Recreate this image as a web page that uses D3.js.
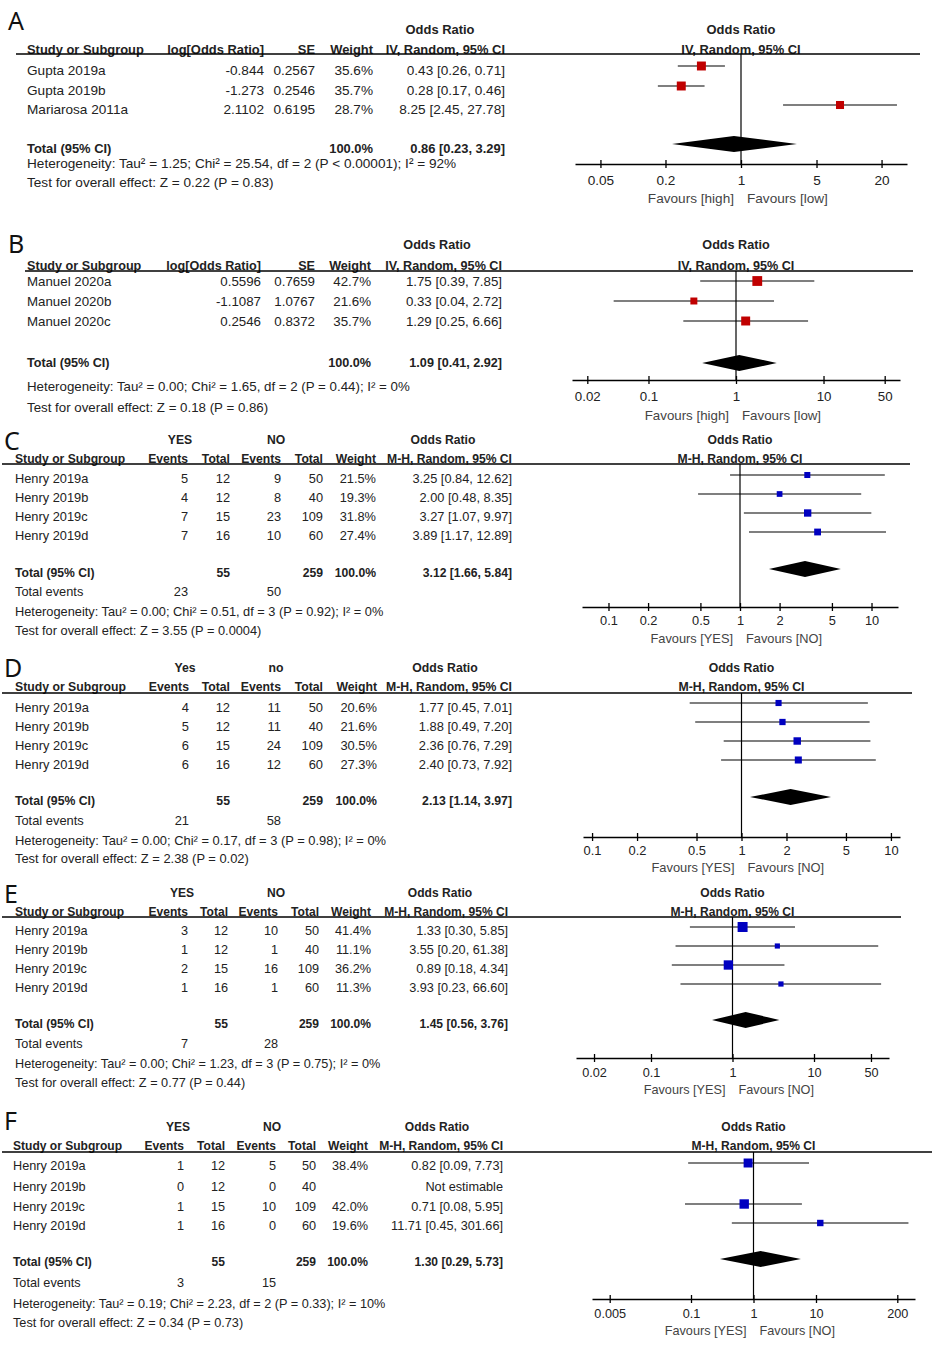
<!DOCTYPE html>
<html>
<head>
<meta charset="utf-8">
<script src="https://cdnjs.cloudflare.com/ajax/libs/d3/7.8.5/d3.min.js"></script>
<style>
body { margin: 0; background: #fff; }
svg text { font-family: "Liberation Sans", Arial, sans-serif; fill: #222; }
svg text.b { font-weight: bold; }
svg text.letter { font-family: "Noto Sans", sans-serif; font-size: 25px; fill: #111; }
svg text.fav { fill: #444; }
</style>
</head>
<body>
<div id="chart"></div>
<script>
// ---- data ----

// A
var studiesA = ["Gupta 2019a", "Gupta 2019b", "Mariarosa 2011a"];
var logOrA = [-0.844, -1.273, 2.1102];
var seA = [0.2567, 0.2546, 0.6195];
var weightA = [35.6, 35.7, 28.7];
var orA = [0.43, 0.28, 8.25];
var loA = [0.26, 0.17, 2.45];
var hiA = [0.71, 0.46, 27.78];
var totalA = [0.86, 0.23, 3.29];
var hetA = "Heterogeneity: Tau² = 1.25; Chi² = 25.54, df = 2 (P < 0.00001); I² = 92%";
var testA = "Test for overall effect: Z = 0.22 (P = 0.83)";
var ticksA = [0.05, 0.2, 1, 5, 20];
var favA = ["Favours [high]", "Favours [low]"];

// B
var studiesB = ["Manuel 2020a", "Manuel 2020b", "Manuel 2020c"];
var logOrB = [0.5596, -1.1087, 0.2546];
var seB = [0.7659, 1.0767, 0.8372];
var weightB = [42.7, 21.6, 35.7];
var orB = [1.75, 0.33, 1.29];
var loB = [0.39, 0.04, 0.25];
var hiB = [7.85, 2.72, 6.66];
var totalB = [1.09, 0.41, 2.92];
var hetB = "Heterogeneity: Tau² = 0.00; Chi² = 1.65, df = 2 (P = 0.44); I² = 0%";
var testB = "Test for overall effect: Z = 0.18 (P = 0.86)";
var ticksB = [0.02, 0.1, 1, 10, 50];
var favB = ["Favours [high]", "Favours [low]"];

// C..F all use the same four Henry studies
var studiesH = ["Henry 2019a", "Henry 2019b", "Henry 2019c", "Henry 2019d"];

// C
var groupsC = ["YES", "NO"];
var evYesC = [5, 4, 7, 7];
var totYesC = [12, 12, 15, 16];
var evNoC = [9, 8, 23, 10];
var totNoC = [50, 40, 109, 60];
var weightC = [21.5, 19.3, 31.8, 27.4];
var orC = [3.25, 2.00, 3.27, 3.89];
var loC = [0.84, 0.48, 1.07, 1.17];
var hiC = [12.62, 8.35, 9.97, 12.89];
var totalC = [3.12, 1.66, 5.84];
var hetC = "Heterogeneity: Tau² = 0.00; Chi² = 0.51, df = 3 (P = 0.92); I² = 0%";
var testC = "Test for overall effect: Z = 3.55 (P = 0.0004)";
var ticksC = [0.1, 0.2, 0.5, 1, 2, 5, 10];
var favC = ["Favours [YES]", "Favours [NO]"];

// D
var groupsD = ["Yes", "no"];
var evYesD = [4, 5, 6, 6];
var totYesD = [12, 12, 15, 16];
var evNoD = [11, 11, 24, 12];
var totNoD = [50, 40, 109, 60];
var weightD = [20.6, 21.6, 30.5, 27.3];
var orD = [1.77, 1.88, 2.36, 2.40];
var loD = [0.45, 0.49, 0.76, 0.73];
var hiD = [7.01, 7.20, 7.29, 7.92];
var totalD = [2.13, 1.14, 3.97];
var hetD = "Heterogeneity: Tau² = 0.00; Chi² = 0.17, df = 3 (P = 0.98); I² = 0%";
var testD = "Test for overall effect: Z = 2.38 (P = 0.02)";
var ticksD = [0.1, 0.2, 0.5, 1, 2, 5, 10];
var favD = ["Favours [YES]", "Favours [NO]"];

// E
var groupsE = ["YES", "NO"];
var evYesE = [3, 1, 2, 1];
var totYesE = [12, 12, 15, 16];
var evNoE = [10, 1, 16, 1];
var totNoE = [50, 40, 109, 60];
var weightE = [41.4, 11.1, 36.2, 11.3];
var orE = [1.33, 3.55, 0.89, 3.93];
var loE = [0.30, 0.20, 0.18, 0.23];
var hiE = [5.85, 61.38, 4.34, 66.60];
var totalE = [1.45, 0.56, 3.76];
var hetE = "Heterogeneity: Tau² = 0.00; Chi² = 1.23, df = 3 (P = 0.75); I² = 0%";
var testE = "Test for overall effect: Z = 0.77 (P = 0.44)";
var ticksE = [0.02, 0.1, 1, 10, 50];
var favE = ["Favours [YES]", "Favours [NO]"];

// F  (Henry 2019b not estimable)
var groupsF = ["YES", "NO"];
var evYesF = [1, 0, 1, 1];
var totYesF = [12, 12, 15, 16];
var evNoF = [5, 0, 10, 0];
var totNoF = [50, 40, 109, 60];
var weightF = [38.4, null, 42.0, 19.6];
var orF = [0.82, null, 0.71, 11.71];
var loF = [0.09, null, 0.08, 0.45];
var hiF = [7.73, null, 5.95, 301.66];
var totalF = [1.30, 0.29, 5.73];
var hetF = "Heterogeneity: Tau² = 0.19; Chi² = 2.23, df = 2 (P = 0.33); I² = 10%";
var testF = "Test for overall effect: Z = 0.34 (P = 0.73)";
var ticksF = [0.005, 0.1, 1, 10, 200];
var favF = ["Favours [YES]", "Favours [NO]"];

// ---- layout of each panel (pixel positions, font size) ----
var layouts = {
  A: {fs: 13.6, letter: [8, 30], h1: 29, h2: 49, line: [16, 920, 54], rows: [70, 90, 109], mOff: -4,
      total: 148, het: 163, test: 182, axisY: 164, tickDy: 16, favDy: 34,
      x0: 575, x1: 907, M: 34.4, K: 15, color: "#c00000",
      cols: [27, 264, 315, 373, 505], orHead: 440},
  B: {fs: 13.3, letter: [8, 253], h1: 245, h2: 266, line: [25, 913, 271], rows: [281, 301, 321], mOff: 0,
      total: 363, het: 386, test: 407, axisY: 380, tickDy: 16, favDy: 35,
      x0: 572, x1: 900, M: 74.8, K: 15, color: "#c00000",
      cols: [27, 261, 315, 371, 502], orHead: 437},
  C: {fs: 12.8, letter: [4, 450], h1: 440, h2: 459, line: [2, 910, 464], rows: [479, 498, 517, 536], mOff: -4,
      total: 573, events: 592, het: 612, test: 631, axisY: 607, tickDy: 14, favDy: 32,
      x0: 582, x1: 898, M: 15.9, K: 13, color: "#0000c0",
      cols: [15, 188, 230, 281, 323, 376, 512], grp: [180, 276], orHead: 443},
  D: {fs: 12.9, letter: [4, 677], h1: 668, h2: 687, line: [2, 912, 693], rows: [707, 726, 745, 764], mOff: -4,
      total: 801, events: 820, het: 840, test: 858, axisY: 837, tickDy: 13, favDy: 30,
      x0: 583, x1: 900, M: 11.5, K: 13.5, color: "#0000c0",
      cols: [15, 189, 230, 281, 323, 377, 512], grp: [185, 276], orHead: 445},
  E: {fs: 12.7, letter: [4, 903], h1: 893, h2: 912, line: [2, 901, 917], rows: [931, 950, 969, 988], mOff: -4,
      total: 1024, events: 1044, het: 1064, test: 1083, axisY: 1058, tickDy: 15, favDy: 32,
      x0: 576, x1: 889, M: 83.2, K: 15.5, color: "#0000c0",
      cols: [15, 188, 228, 278, 319, 371, 508], grp: [182, 276], orHead: 440},
  F: {fs: 12.7, letter: [4, 1130], h1: 1127, h2: 1146, line: [2, 932, 1152], rows: [1166, 1187, 1207, 1226], mOff: -3,
      total: 1262, events: 1283, het: 1304, test: 1323, axisY: 1299, tickDy: 15, favDy: 32,
      x0: 592, x1: 915, M: 384, K: 14.5, color: "#0000c0",
      cols: [13, 184, 225, 276, 316, 368, 503], grp: [178, 272], orHead: 437}
};

// tables built from the arrays above
var panels = [
  {id: "A", kind: "iv", method: "IV, Random, 95% CI", studies: studiesA, logOr: logOrA, se: seA, weight: weightA,
   or: orA, lo: loA, hi: hiA, total: totalA, het: hetA, test: testA, ticks: ticksA, fav: favA},
  {id: "B", kind: "iv", method: "IV, Random, 95% CI", studies: studiesB, logOr: logOrB, se: seB, weight: weightB,
   or: orB, lo: loB, hi: hiB, total: totalB, het: hetB, test: testB, ticks: ticksB, fav: favB},
  {id: "C", kind: "mh", method: "M-H, Random, 95% CI", studies: studiesH, groups: groupsC, evYes: evYesC, totYes: totYesC,
   evNo: evNoC, totNo: totNoC, weight: weightC, or: orC, lo: loC, hi: hiC, total: totalC, het: hetC, test: testC, ticks: ticksC, fav: favC},
  {id: "D", kind: "mh", method: "M-H, Random, 95% CI", studies: studiesH, groups: groupsD, evYes: evYesD, totYes: totYesD,
   evNo: evNoD, totNo: totNoD, weight: weightD, or: orD, lo: loD, hi: hiD, total: totalD, het: hetD, test: testD, ticks: ticksD, fav: favD},
  {id: "E", kind: "mh", method: "M-H, Random, 95% CI", studies: studiesH, groups: groupsE, evYes: evYesE, totYes: totYesE,
   evNo: evNoE, totNo: totNoE, weight: weightE, or: orE, lo: loE, hi: hiE, total: totalE, het: hetE, test: testE, ticks: ticksE, fav: favE},
  {id: "F", kind: "mh", method: "M-H, Random, 95% CI", studies: studiesH, groups: groupsF, evYes: evYesF, totYes: totYesF,
   evNo: evNoF, totNo: totNoF, weight: weightF, or: orF, lo: loF, hi: hiF, total: totalF, het: hetF, test: testF, ticks: ticksF, fav: favF}
];

var f2 = d3.format(".2f"), f1 = d3.format(".1f");
function ciText(o, l, h) { return f2(o) + " [" + f2(l) + ", " + f2(h) + "]"; }

var svg = d3.select("#chart").append("svg")
    .attr("width", 932)
    .attr("height", 1348);

panels.forEach(function(P) {
  var L = layouts[P.id];
  var g = svg.append("g");
  var x = d3.scaleLog().domain([1 / L.M, L.M]).range([L.x0, L.x1]);
  var box = d3.scaleSqrt().domain([0, 100]).range([0, L.K]);
  var c = L.cols;
  var n = P.studies.length;

  // bold text in these tables runs a little narrower than the plain text
  function txt(x, y, s, anchor, cls) {
    return g.append("text")
      .attr("x", x).attr("y", y).attr("dy", "0.35em")
      .attr("text-anchor", anchor || "start")
      .attr("class", cls || null)
      .attr("font-size", (cls === "b" ? L.fs * 0.95 : L.fs) + "px")
      .text(s);
  }

  g.append("text").attr("class", "letter").attr("x", L.letter[0]).attr("y", L.letter[1]).text(P.id);

  // headers
  txt(L.orHead, L.h1, "Odds Ratio", "middle", "b");
  txt(x(1), L.h1, "Odds Ratio", "middle", "b");
  txt(x(1), L.h2, P.method, "middle", "b");
  txt(c[0], L.h2, "Study or Subgroup", "start", "b");
  if (P.kind === "iv") {
    txt(c[1], L.h2, "log[Odds Ratio]", "end", "b");
    txt(c[2], L.h2, "SE", "end", "b");
    txt(c[3], L.h2, "Weight", "end", "b");
    txt(c[4], L.h2, P.method, "end", "b");
  } else {
    txt(L.grp[0], L.h1, P.groups[0], "middle", "b");
    txt(L.grp[1], L.h1, P.groups[1], "middle", "b");
    ["Events", "Total", "Events", "Total", "Weight", P.method].forEach(function(h, k) {
      txt(c[k + 1], L.h2, h, "end", "b");
    });
  }
  g.append("line")
    .attr("x1", L.line[0]).attr("x2", L.line[1])
    .attr("y1", L.line[2]).attr("y2", L.line[2])
    .attr("stroke", "#000").attr("stroke-width", 1.3);

  // study rows
  d3.range(n).forEach(function(i) {
    var y = L.rows[i];
    txt(c[0], y, P.studies[i]);
    var wCol, ciCol;
    if (P.kind === "iv") {
      txt(c[1], y, String(P.logOr[i]), "end");
      txt(c[2], y, String(P.se[i]), "end");
      wCol = c[3]; ciCol = c[4];
    } else {
      txt(c[1], y, P.evYes[i], "end");
      txt(c[2], y, P.totYes[i], "end");
      txt(c[3], y, P.evNo[i], "end");
      txt(c[4], y, P.totNo[i], "end");
      wCol = c[5]; ciCol = c[6];
    }
    if (P.weight[i] != null) {
      txt(wCol, y, f1(P.weight[i]) + "%", "end");
      txt(ciCol, y, ciText(P.or[i], P.lo[i], P.hi[i]), "end");
    } else {
      txt(ciCol, y, "Not estimable", "end");
    }
  });

  // total rows
  var wC = P.kind === "iv" ? c[3] : c[5];
  var ciC = P.kind === "iv" ? c[4] : c[6];
  txt(c[0], L.total, "Total (95% CI)", "start", "b");
  txt(wC, L.total, "100.0%", "end", "b");
  txt(ciC, L.total, ciText(P.total[0], P.total[1], P.total[2]), "end", "b");
  if (P.kind === "mh") {
    txt(c[2], L.total, d3.sum(P.totYes), "end", "b");
    txt(c[4], L.total, d3.sum(P.totNo), "end", "b");
    txt(c[0], L.events, "Total events");
    txt(c[1], L.events, d3.sum(P.evYes), "end");
    txt(c[3], L.events, d3.sum(P.evNo), "end");
  }
  txt(c[0], L.het, P.het);
  txt(c[0], L.test, P.test);

  // plot: line of no effect
  g.append("line")
    .attr("x1", x(1)).attr("x2", x(1))
    .attr("y1", L.line[2]).attr("y2", L.axisY)
    .attr("stroke", "#000").attr("stroke-width", 1.2);

  var idx = d3.range(n).filter(function(i) { return P.or[i] != null; });
  g.selectAll(".ci").data(idx).enter().append("line")
    .attr("x1", function(i) { return x(P.lo[i]); })
    .attr("x2", function(i) { return x(P.hi[i]); })
    .attr("y1", function(i) { return L.rows[i] + L.mOff; })
    .attr("y2", function(i) { return L.rows[i] + L.mOff; })
    .attr("stroke", "#000").attr("stroke-width", 1.2);
  g.selectAll(".box").data(idx).enter().append("rect")
    .attr("x", function(i) { return x(P.or[i]) - box(P.weight[i]) / 2; })
    .attr("y", function(i) { return L.rows[i] + L.mOff - box(P.weight[i]) / 2; })
    .attr("width", function(i) { return box(P.weight[i]); })
    .attr("height", function(i) { return box(P.weight[i]); })
    .attr("fill", L.color);

  var dy = L.total + L.mOff;
  g.append("polygon")
    .attr("points", [[x(P.total[1]), dy], [x(P.total[0]), dy - 8], [x(P.total[2]), dy], [x(P.total[0]), dy + 8]].join(" "))
    .attr("fill", "#000");

  // axis
  var axis = d3.axisBottom(x)
    .tickValues(P.ticks)
    .tickFormat(function(d) { return String(d); })
    .tickSizeInner(4)
    .tickSizeOuter(0);
  var ag = g.append("g")
    .attr("transform", "translate(0," + L.axisY + ")")
    .call(axis)
    .attr("font-size", null)
    .attr("font-family", null);
  ag.select(".domain").attr("stroke", "#000").attr("stroke-width", 1.3);
  ag.selectAll(".tick line").attr("y1", -4).attr("y2", 4).attr("stroke", "#000").attr("stroke-width", 1.3);
  ag.selectAll(".tick text").attr("y", L.tickDy).attr("dy", "0.35em").attr("fill", null)
    .attr("font-size", L.fs + "px");

  txt(x(1) - 7, L.axisY + L.favDy, P.fav[0], "end", "fav");
  txt(x(1) + 6, L.axisY + L.favDy, P.fav[1], "start", "fav");
});
</script>
</body>
</html>
